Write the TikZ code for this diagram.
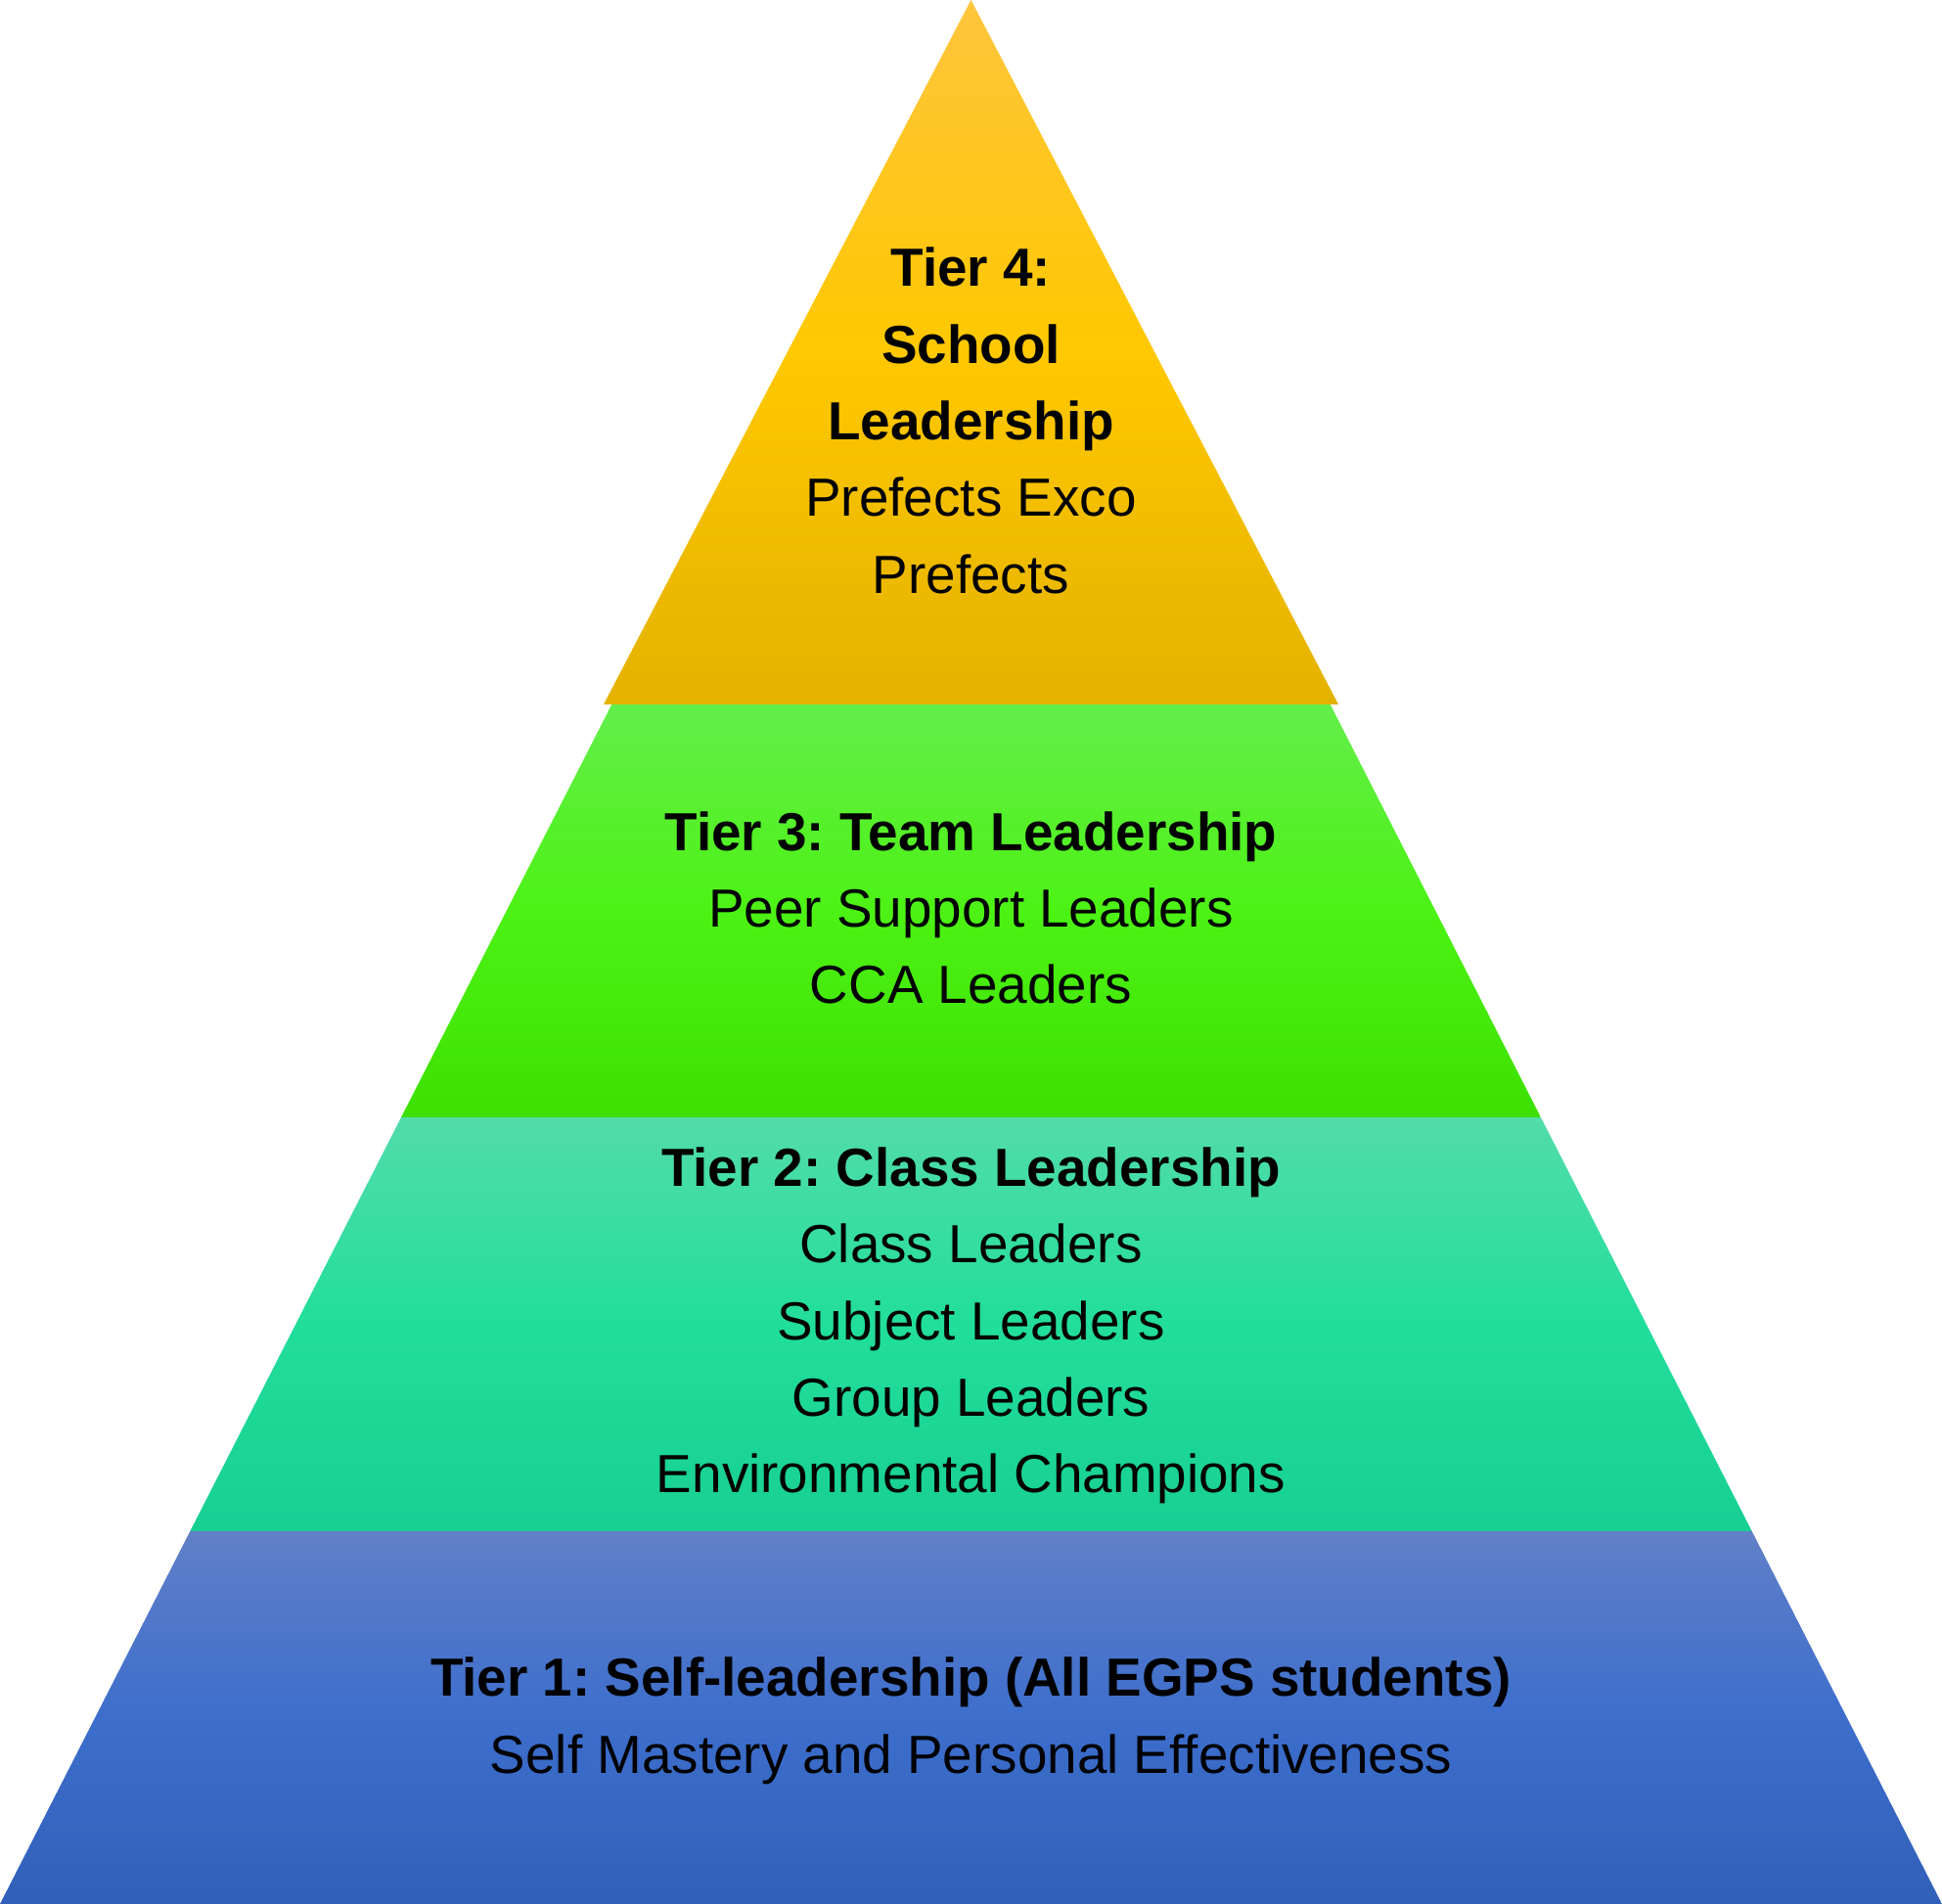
\documentclass[tikz,border=0pt]{standalone}
\usepackage{fontspec}
\setmainfont{Liberation Sans}
\usepackage{xcolor}
\usetikzlibrary{calc}
\frenchspacing

\definecolor{tonetop}{HTML}{6180C8}
\definecolor{tonemid}{HTML}{3D6ECC}
\definecolor{tonebot}{HTML}{3060B8}
\definecolor{ttwotop}{HTML}{52DCAA}
\definecolor{ttwomid}{HTML}{22DE9B}
\definecolor{ttwobot}{HTML}{17CF92}
\definecolor{tthreetop}{HTML}{63EE4A}
\definecolor{tthreemid}{HTML}{4DF215}
\definecolor{tthreebot}{HTML}{3DE000}
\definecolor{tfourtop}{HTML}{FFC53D}
\definecolor{tfourmid}{HTML}{FFC800}
\definecolor{tfourbot}{HTML}{E4B200}

\begin{document}
\begin{tikzpicture}[tier/.style={align=center, font=\fontsize{15.6}{22.3}\selectfont}]
      \useasboundingbox (0,0) rectangle (19.85,19.46);
      \coordinate (apex) at (9.925,19.46);
      \coordinate (bl) at (0,0);
      \coordinate (br) at (19.85,0);

      % Lower tiers as bands of the pyramid
      \foreach \lo/\hi/\c in {0/3.81/tone, 3.81/8.04/ttwo, 8.04/12.26/tthree} {
        \shade[top color=\c top, bottom color=\c bot, middle color=\c mid]
          ($(bl)!{\lo/19.46}!(apex)$) -- ($(bl)!{\hi/19.46}!(apex)$)
          -- ($(br)!{\hi/19.46}!(apex)$) -- ($(br)!{\lo/19.46}!(apex)$) -- cycle;
      }

      % Top tier, a little wider than the band below
      \shade[top color=tfourtop, bottom color=tfourbot, middle color=tfourmid]
        (6.17,12.26) -- (apex) -- (13.68,12.26) -- cycle;

      % Labels
      \node[tier] (tfour) at (9.925,15.16) {\textbf{Tier 4:}\\\textbf{School}\\\textbf{Leadership}\\Prefects Exco\\Prefects};
      \node[tier] (tthree) at (9.925,10.18) {\textbf{Tier 3: Team Leadership}\\Peer Support Leaders\\CCA Leaders};
      \node[tier] (ttwo) at (9.925,5.91) {\textbf{Tier 2: Class Leadership}\\Class Leaders\\Subject Leaders\\Group Leaders\\Environmental Champions};
      \node[tier] (tone) at (9.925,1.87) {\textbf{Tier 1: Self-leadership (All EGPS students)}\\Self Mastery and Personal Effectiveness};
    \end{tikzpicture}
\end{document}
